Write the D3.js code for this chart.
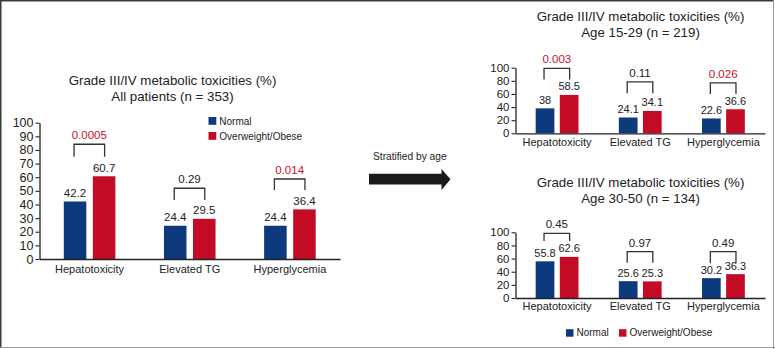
<!DOCTYPE html>
<html>
<head>
<meta charset="utf-8">
<script src="https://cdn.jsdelivr.net/npm/d3@7"></script>
<style>
  html, body { margin: 0; padding: 0; background: #fff; }
  svg { display: block; }
  text { font-family: "Liberation Sans", Arial, Helvetica, sans-serif; fill: #222; }
</style>
</head>
<body>
<svg id="chart" width="775" height="349"></svg>
<script>
// ---------- DATA ----------
const categories = ["Hepatotoxicity", "Elevated TG", "Hyperglycemia"];
const seriesNames = ["Normal", "Overweight/Obese"];

const allNormal = [42.2, 24.4, 24.4];
const allObese  = [60.7, 29.5, 36.4];
const allP      = ["0.0005", "0.29", "0.014"];
const allSig    = [true, false, true];
const allBracketTop    = [84.2, 51.9, 58.7];
const allBracketBottom = [75.1, 43.3, 50.6];

const youngNormal = [38, 24.1, 22.6];
const youngObese  = [58.5, 34.1, 36.6];
const youngP      = ["0.003", "0.11", "0.026"];
const youngSig    = [true, false, true];
const youngBracketTop    = [98.9, 78.5, 77.0];
const youngBracketBottom = [82.2, 60.9, 59.8];

const olderNormal = [55.8, 25.6, 30.2];
const olderObese  = [62.6, 25.3, 36.3];
const olderP      = ["0.45", "0.97", "0.49"];
const olderSig    = [false, false, false];
const olderBracketTop    = [98.5, 70.5, 70.5];
const olderBracketBottom = [86.8, 53.7, 52.8];

const allTicks = [0, 10, 20, 30, 40, 50, 60, 70, 80, 90, 100];
const subTicks = [0, 20, 40, 60, 80, 100];

const titleLine1 = "Grade III/IV metabolic toxicities (%)";
const allTitle2 = "All patients (n = 353)";
const youngTitle2 = "Age 15-29 (n = 219)";
const olderTitle2 = "Age 30-50 (n = 134)";
const arrowLabel = "Stratified by age";

// ---------- STYLE ----------
const BLUE = "#0c3a7d";
const RED = "#c40b26";
const PRED = "#c8102e";
const INK = "#222";
const colors = [BLUE, RED];

const svg = d3.select("#chart");

// frame
svg.append("line").attr("x1", 0.75).attr("x2", 0.75).attr("y1", 0).attr("y2", 348).attr("stroke", "#3a3a3a").attr("stroke-width", 1.5);
svg.append("line").attr("x1", 0).attr("x2", 774).attr("y1", 0.75).attr("y2", 0.75).attr("stroke", "#3a3a3a").attr("stroke-width", 1.5);
svg.append("line").attr("x1", 773.5).attr("x2", 773.5).attr("y1", 0).attr("y2", 349).attr("stroke", "#999").attr("stroke-width", 1);
svg.append("line").attr("x1", 0).attr("x2", 775).attr("y1", 347.5).attr("y2", 347.5).attr("stroke", "#999").attr("stroke-width", 1);

function drawChart(cfg) {
  const g = svg.append("g");
  const x = d3.scaleBand().domain(categories).range([cfg.x0, cfg.x1]);
  const y = d3.scaleLinear().domain([0, 100]).range([cfg.y0, cfg.y100]);
  const band = x.bandwidth();
  const groupW = band * 0.515;
  const gap = band * 0.065;
  const barW = (groupW - gap) / 2;
  const sub = (i, s) => x(categories[i]) + band / 2 - groupW / 2 + s * (barW + gap);

  // bars
  const series = [cfg.normal, cfg.obese];
  series.forEach((vals, s) => {
    g.selectAll(null).data(vals).enter().append("rect")
      .attr("x", (d, i) => sub(i, s))
      .attr("width", barW)
      .attr("y", d => y(d))
      .attr("height", d => y(0) - y(d))
      .attr("fill", colors[s]);
    g.selectAll(null).data(vals).enter().append("text")
      .attr("x", (d, i) => sub(i, s) + barW / 2)
      .attr("y", d => y(d) - 4.5)
      .attr("text-anchor", "middle")
      .attr("font-size", cfg.valueFont)
      .text(d => d);
  });

  // y axis
  const yAxis = d3.axisLeft(y).tickValues(cfg.ticks).tickSize(4).tickPadding(2).tickSizeOuter(0);
  const ya = g.append("g").attr("transform", `translate(${cfg.x0},0)`).call(yAxis);
  ya.select(".domain").attr("stroke", INK).attr("stroke-width", 1.3);
  ya.selectAll(".tick line").attr("stroke", INK).attr("stroke-width", 1.1);
  ya.selectAll(".tick text").attr("font-size", cfg.tickFont).attr("fill", INK)
    .attr("font-family", '"Liberation Sans", Arial, sans-serif');

  // x axis
  const xAxis = d3.axisBottom(x).tickSize(0).tickPadding(cfg.catPad);
  const xa = g.append("g").attr("transform", `translate(0,${cfg.y0})`).call(xAxis);
  xa.select(".domain").attr("stroke", INK).attr("stroke-width", 1.3);
  xa.selectAll(".tick text").attr("font-size", cfg.catFont).attr("fill", INK)
    .attr("font-family", '"Liberation Sans", Arial, sans-serif');

  // brackets
  categories.forEach((c, i) => {
    const xl = sub(i, 0) + barW / 2 - 1;
    const xr = sub(i, 1) + barW / 2 + 0.5;
    const yt = y(cfg.bTop[i]);
    const yb = y(cfg.bBottom[i]);
    g.append("path")
      .attr("d", `M${xl},${yb}V${yt}H${xr}V${yb}`)
      .attr("fill", "none").attr("stroke", "#333").attr("stroke-width", 1.3);
    g.append("text")
      .attr("x", (xl + xr) / 2)
      .attr("y", yt - 5)
      .attr("text-anchor", "middle")
      .attr("font-size", cfg.pFont)
      .style("fill", cfg.sig[i] ? PRED : INK)
      .text(cfg.p[i]);
  });

  // title
  const t = g.append("text").attr("text-anchor", "middle").attr("font-size", 13.3);
  t.append("tspan").attr("x", cfg.titleX).attr("y", cfg.titleY).text(titleLine1);
  t.append("tspan").attr("x", cfg.titleX).attr("y", cfg.titleY + 15.8).text(cfg.title2);
}

drawChart({
  x0: 39.5, x1: 340, y0: 259, y100: 122.7,
  normal: allNormal, obese: allObese, p: allP, sig: allSig,
  bTop: allBracketTop, bBottom: allBracketBottom,
  ticks: allTicks, tickFont: 12.5, valueFont: 11.5, catFont: 11, pFont: 11.5, catPad: 6,
  titleX: 172.5, titleY: 85, title2: allTitle2
});

drawChart({
  x0: 515.5, x1: 765, y0: 133.3, y100: 67.7,
  normal: youngNormal, obese: youngObese, p: youngP, sig: youngSig,
  bTop: youngBracketTop, bBottom: youngBracketBottom,
  ticks: subTicks, tickFont: 11.5, valueFont: 11, catFont: 11, pFont: 11.5, catPad: 5,
  titleX: 640.5, titleY: 20.7, title2: youngTitle2
});

drawChart({
  x0: 515.5, x1: 765, y0: 298, y100: 232.3,
  normal: olderNormal, obese: olderObese, p: olderP, sig: olderSig,
  bTop: olderBracketTop, bBottom: olderBracketBottom,
  ticks: subTicks, tickFont: 11.5, valueFont: 11, catFont: 11, pFont: 11.5, catPad: 4,
  titleX: 640.5, titleY: 186.7, title2: olderTitle2
});

// legends
function legend(items) {
  items.forEach(it => {
    svg.append("rect").attr("x", it.x).attr("y", it.y).attr("width", it.s).attr("height", it.s).attr("fill", it.color);
    svg.append("text").attr("x", it.x + it.s + 3).attr("y", it.y + it.s - 0.3)
      .attr("font-size", 10).text(it.label);
  });
}
legend([
  { x: 208.5, y: 117, s: 7.8, color: BLUE, label: seriesNames[0] },
  { x: 208.5, y: 132, s: 7.8, color: RED, label: seriesNames[1] }
]);
legend([
  { x: 566, y: 329.2, s: 7.5, color: BLUE, label: seriesNames[0] },
  { x: 619, y: 329.2, s: 7.5, color: RED, label: seriesNames[1] }
]);

// arrow
svg.append("text").attr("x", 373).attr("y", 160).attr("font-size", 10.2).text(arrowLabel);
svg.append("path")
  .attr("d", "M369,173.8 H441.5 V169 L450.5,179.2 L441.5,190 V184.5 H369 Z")
  .attr("fill", "#1a1a1a");
</script>
</body>
</html>
